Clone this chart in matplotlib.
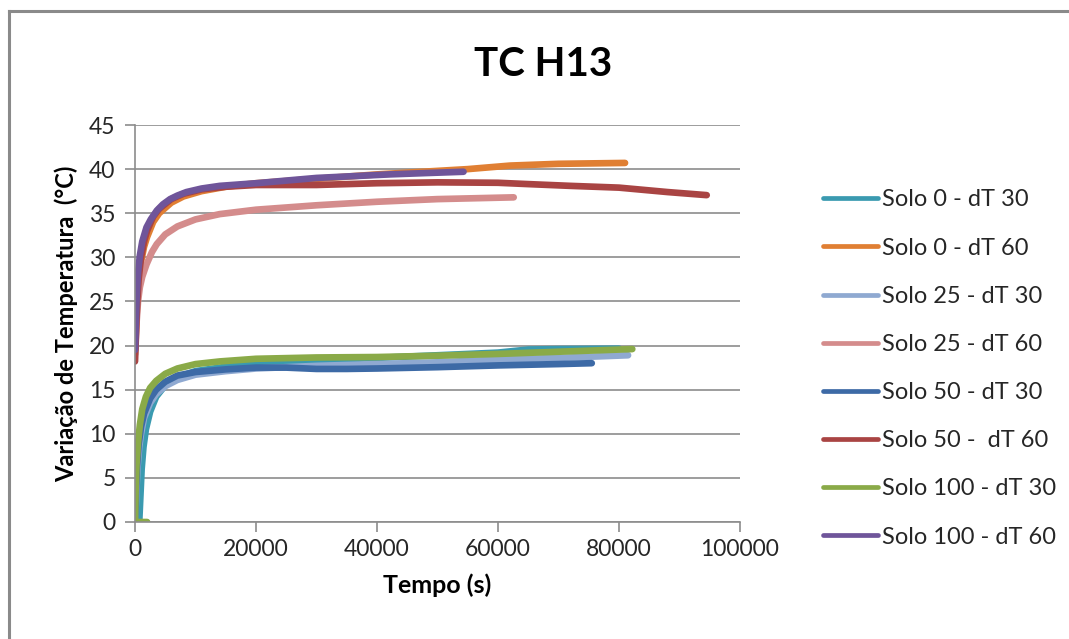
import matplotlib
matplotlib.use("Agg")
import matplotlib.pyplot as plt
from matplotlib.lines import Line2D

plt.rcParams['font.family'] = ['Lato', 'DejaVu Sans']

title = "TC H13"
x_label = "Tempo (s)"
y_label = "Variação de Temperatura  (°C)"

labels = [
    "Solo 0 - dT 30", "Solo 0 - dT 60", "Solo 25 - dT 30", "Solo 25 - dT 60",
    "Solo 50 - dT 30", "Solo 50 -  dT 60", "Solo 100 - dT 30", "Solo 100 - dT 60",
]
colors = ["#3A9AB0", "#E07F33", "#8FA9D1", "#D48C8C",
          "#3D6AA6", "#A94443", "#8AAA48", "#6F559A"]

t_s0_30 = [0, 700, 900, 1100, 1400, 1800, 2500, 3500, 5000, 7000, 10000, 15000,
           20000, 30000, 40000, 50000, 60000, 65000, 70000, 80000]
v_s0_30 = [0, 0, 3, 6, 8.5, 10.5, 12.5, 14.2, 15.5, 16.4, 17.1, 17.6,
           17.9, 18.3, 18.6, 18.9, 19.2, 19.55, 19.6, 19.65]

t_s0_60 = [0, 300, 600, 1000, 1500, 2000, 3000, 4000, 6000, 8000, 11000, 15000,
           20000, 30000, 40000, 50000, 55000, 62000, 70000, 81000]
v_s0_60 = [19.5, 24, 27.5, 29.5, 31.2, 32.3, 34.0, 35.0, 36.2, 36.9, 37.5, 38.0,
           38.4, 38.9, 39.4, 39.8, 40.0, 40.4, 40.6, 40.7]

t_s25_30 = [0, 200, 400, 700, 1000, 1500, 2500, 3500, 5000, 7000, 10000, 15000,
            20000, 30000, 40000, 50000, 60000, 70000, 81500]
v_s25_30 = [0, 3, 6, 8.5, 10, 11.8, 13.5, 14.5, 15.4, 16.1, 16.7, 17.1,
            17.4, 17.7, 17.9, 18.1, 18.4, 18.6, 18.9]

t_s25_60 = [0, 200, 500, 800, 1200, 1900, 2800, 3600, 5000, 7000, 10000, 14000,
            20000, 30000, 40000, 50000, 62600]
v_s25_60 = [19.0, 22, 25, 26.6, 27.8, 29.2, 30.6, 31.5, 32.6, 33.5, 34.3, 34.9,
            35.4, 35.9, 36.3, 36.6, 36.8]

t_s50_30 = [0, 150, 300, 600, 1000, 1500, 2500, 3500, 5000, 7000, 10000, 15000,
            20000, 25000, 30000, 35000, 40000, 50000, 60000, 70000, 75500]
v_s50_30 = [0, 3, 6, 8.8, 10.8, 12.3, 14.0, 15.0, 15.9, 16.6, 17.0, 17.3,
            17.5, 17.5, 17.35, 17.35, 17.4, 17.55, 17.75, 17.9, 18.0]

t_s50_60 = [0, 150, 300, 600, 1000, 1500, 2000, 3000, 4000, 6000, 8000, 11000,
            15000, 20000, 30000, 40000, 50000, 60000, 65000, 72000, 80000, 88000, 94500]
v_s50_60 = [18.2, 21, 24, 27.5, 30, 31.8, 33, 34.6, 35.5, 36.6, 37.2, 37.7,
            38.0, 38.2, 38.2, 38.4, 38.5, 38.45, 38.3, 38.1, 37.9, 37.4, 37.05]

t_s100_30 = [2000, 0, 100, 250, 500, 800, 1200, 1800, 2500, 3500, 5000, 7000,
             10000, 14000, 20000, 30000, 40000, 50000, 60000, 70000, 82200]
v_s100_30 = [0, 0, 3.5, 6.5, 9, 11, 12.8, 14.2, 15.2, 16.0, 16.8, 17.4,
             17.9, 18.2, 18.5, 18.65, 18.7, 18.85, 19.05, 19.3, 19.6]

t_s100_60 = [0, 150, 300, 500, 800, 1200, 1900, 2600, 3600, 4600, 5800, 7000,
             8500, 11000, 14000, 20000, 25000, 30000, 36000, 42000, 48000, 54300]
v_s100_60 = [19.5, 23, 26, 28.3, 30.2, 31.8, 33.4, 34.3, 35.3, 36.0, 36.6, 37.0,
             37.4, 37.8, 38.1, 38.4, 38.7, 39.0, 39.2, 39.4, 39.55, 39.7]

series = [
    (t_s0_30, v_s0_30), (t_s0_60, v_s0_60), (t_s25_30, v_s25_30), (t_s25_60, v_s25_60),
    (t_s50_30, v_s50_30), (t_s50_60, v_s50_60), (t_s100_30, v_s100_30), (t_s100_60, v_s100_60),
]

x_ticks = [0, 20000, 40000, 60000, 80000, 100000]
y_ticks = [0, 5, 10, 15, 20, 25, 30, 35, 40, 45]

W, H = 1069, 639
fig = plt.figure(figsize=(W / 100, H / 100), dpi=100)
ax = fig.add_axes([135 / W, 1 - 522 / H, (740 - 135) / W, (522 - 125) / H])

grid_c = "#8C8C8C"
for (t, v), c, lab in zip(series, colors, labels):
    ax.plot(t, v, color=c, lw=4.8, label=lab,
            solid_capstyle="round", solid_joinstyle="round")

ax.set_xlim(0, 100000)
ax.set_ylim(0, 45)
ax.set_xticks(x_ticks)
ax.set_yticks(y_ticks)
ax.set_xticklabels([str(x) for x in x_ticks])
ax.yaxis.grid(True, color=grid_c, lw=1.2)
ax.set_axisbelow(True)
for s in ("top", "right"):
    ax.spines[s].set_visible(False)
for s in ("left", "bottom"):
    ax.spines[s].set_color(grid_c)
    ax.spines[s].set_linewidth(1.2)
ax.tick_params(axis="both", colors=grid_c, length=7, width=1.2, labelsize=16.5,
               labelcolor="#262626")
ax.tick_params(axis="x", pad=5)
ax.tick_params(axis="y", pad=7)

ax.set_xlabel(x_label, fontsize=18, fontweight="bold", labelpad=10)
ax.set_ylabel(y_label, fontsize=17, fontweight="bold", labelpad=8)

fig.text(543 / W, 1 - 65 / H, title, fontsize=29, fontweight="bold",
         ha="center", va="center")

leg = fig.legend(loc="center left", bbox_to_anchor=(823 / W, 1 - 368.5 / H),
                 frameon=False, fontsize=17, handlelength=2.33, handletextpad=0.18,
                 labelspacing=1.15, borderpad=0, borderaxespad=0)
for line in leg.get_lines():
    line.set_linewidth(3.4)
for txt in leg.get_texts():
    txt.set_color("#262626")

# chart-area frame (top and left edges)
border_c = "#8A8A8A"
fig.add_artist(Line2D([9 / W, 1], [1 - 11 / H, 1 - 11 / H], color=border_c, lw=2.2,
                      transform=fig.transFigure))
fig.add_artist(Line2D([9 / W, 9 / W], [0, 1 - 11 / H], color=border_c, lw=2.2,
                      transform=fig.transFigure))

fig.savefig("out.png", dpi=100)
